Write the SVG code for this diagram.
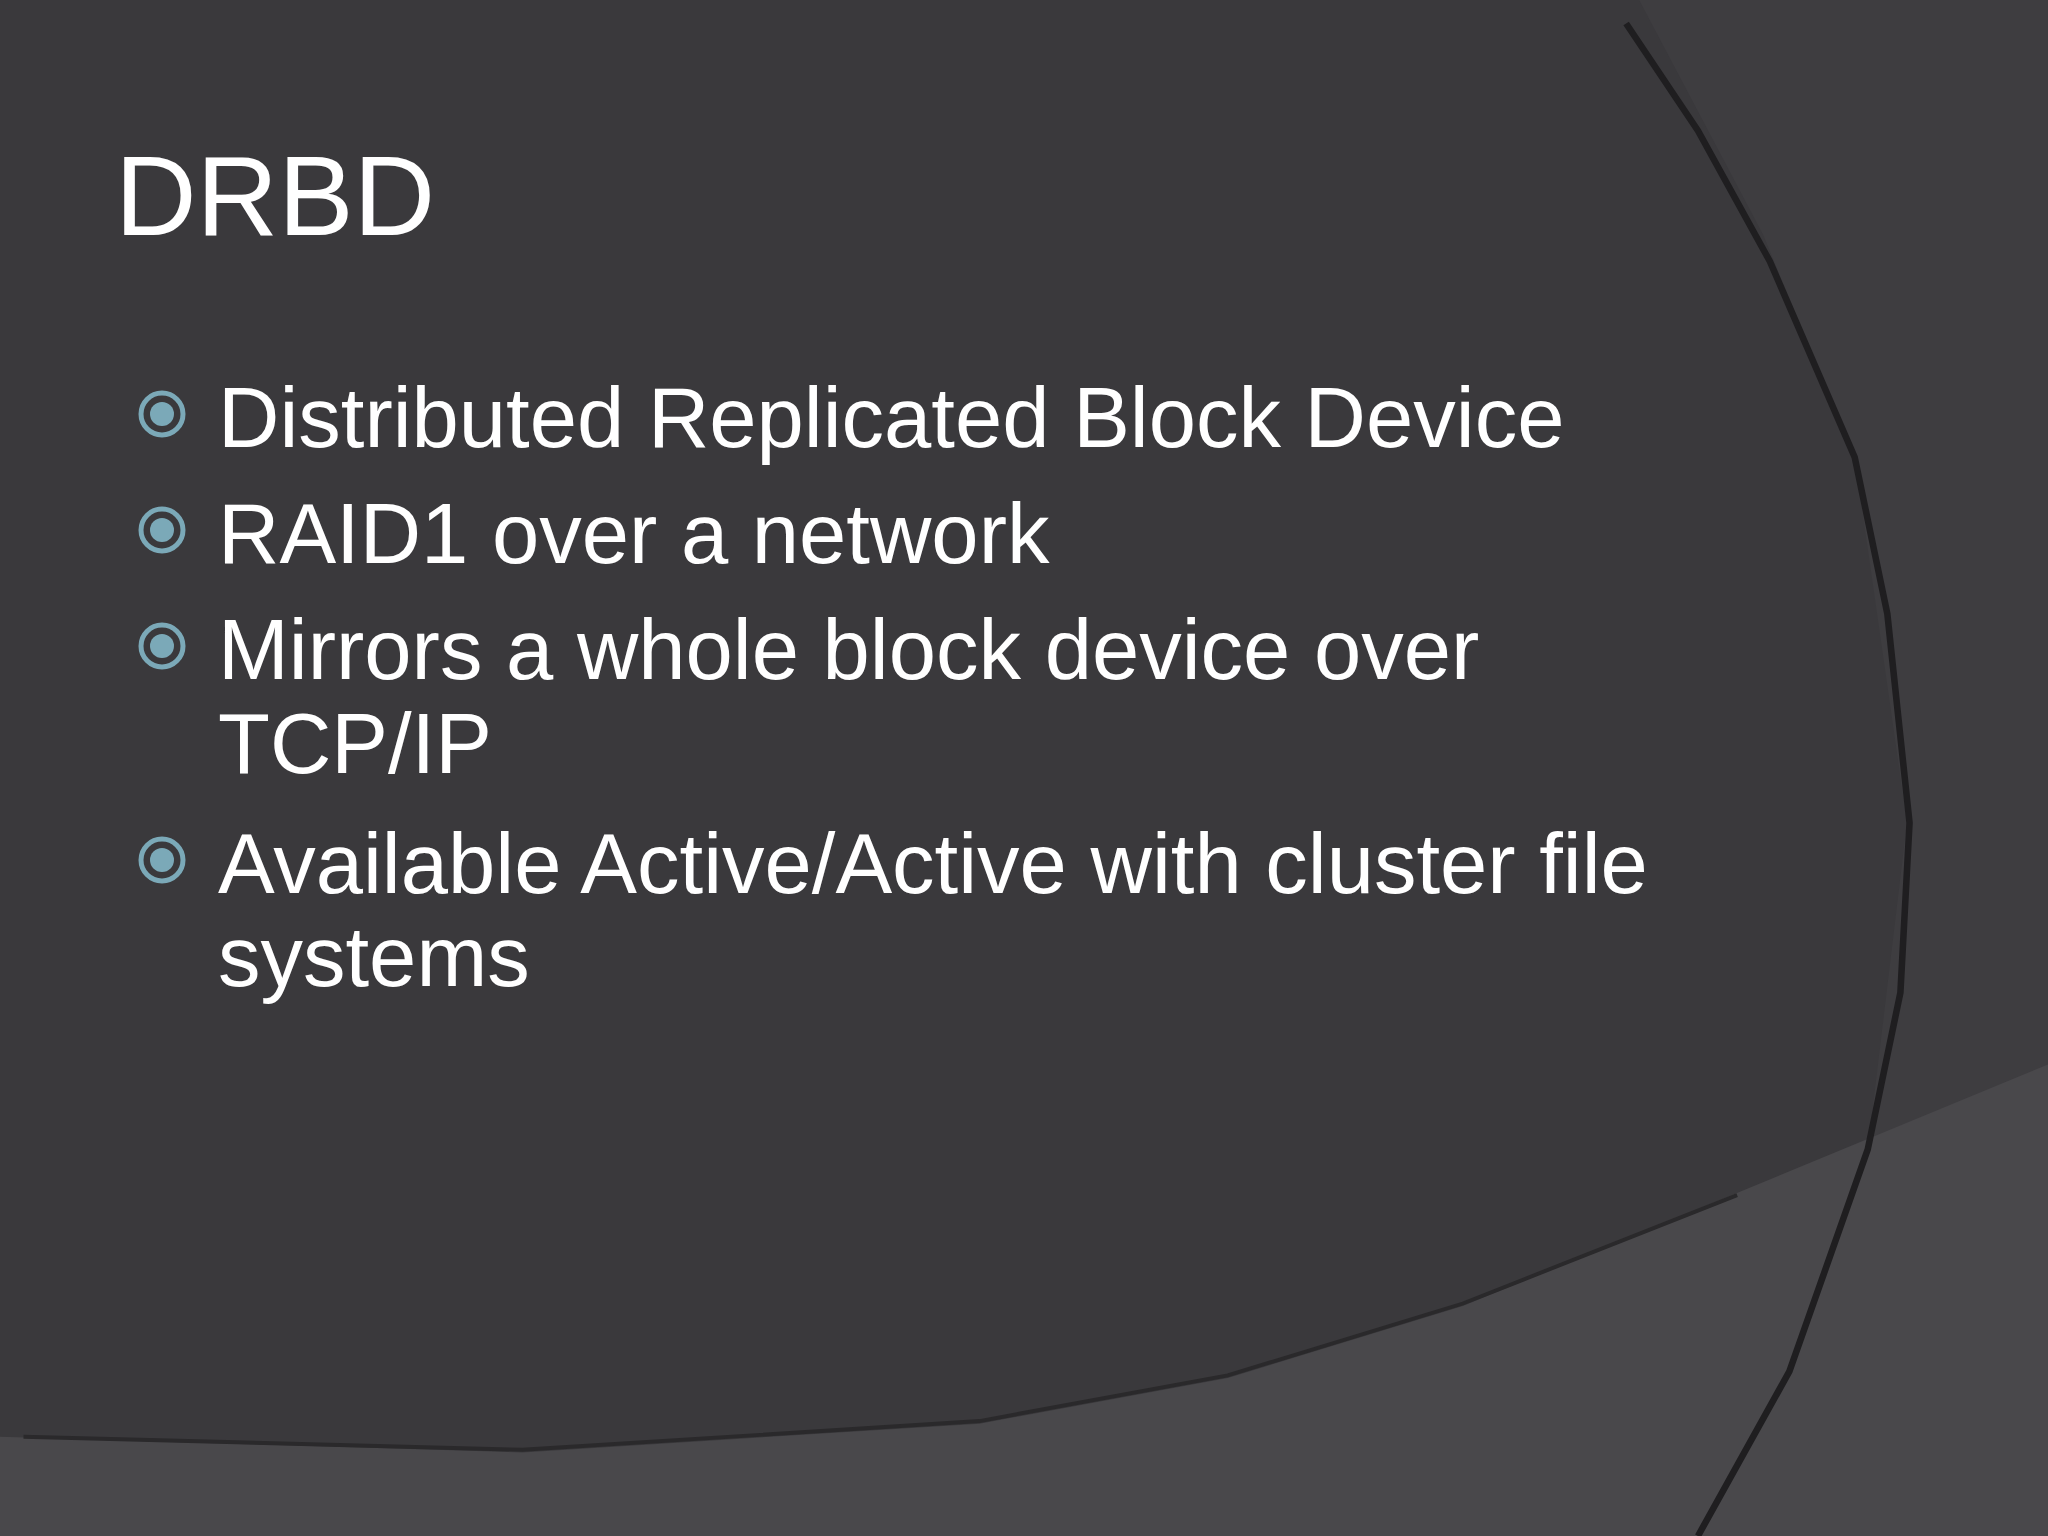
<svg xmlns="http://www.w3.org/2000/svg" width="2048" height="1536" viewBox="0 0 2048 1536">
<style>
.t{font-family:"Liberation Sans",Arial,sans-serif;fill:#ffffff}
.b{font-size:85px}
</style>
<defs>
<g id="bul"><circle r="21" fill="none" stroke="#7ba9b8" stroke-width="5"/><circle r="12" fill="#7ba9b8"/></g>
</defs>
<rect width="2048" height="1536" fill="#3a393c"/>
<g transform="scale(1.30612)">
<path d="M1255,0 L1568,0 L1568,1176 L1300,1176 L1370,1050 L1430,880 L1460,630 L1420,350 L1350,180 Z" fill="#3e3d40"/>
<path d="M0,1100 L400,1112 L750,1090 L940,1055 L1120,1000 L1568,815 L1568,1176 L0,1176 Z" fill="#49484b"/>
<path d="M1245,18 L1300,100 L1355,200 L1420,350 L1445,470 L1462,630 L1455,760 L1430,880 L1370,1050 L1300,1176" fill="none" stroke="#1f1e20" stroke-width="5"/>
<path d="M18,1100 L400,1110 L750,1088 L940,1053 L1120,998 L1330,915" fill="none" stroke="#2a292b" stroke-width="3"/>
</g>
<text class="t" x="115" y="235" font-size="113">DRBD</text>
<g id="b1"><use href="#bul" x="162" y="414"/><text class="t b" x="218" y="447">Distributed Replicated Block Device</text></g>
<g id="b2"><use href="#bul" x="162" y="530"/><text class="t b" x="218" y="563">RAID1 over a network</text></g>
<g id="b3"><use href="#bul" x="162" y="646"/><text class="t b" x="218" y="679">Mirrors a whole block device over</text><text class="t b" x="218" y="773">TCP/IP</text></g>
<g id="b4"><use href="#bul" x="162" y="860"/><text class="t b" x="218" y="893">Available Active/Active with cluster file</text><text class="t b" x="218" y="986">systems</text></g>
</svg>
